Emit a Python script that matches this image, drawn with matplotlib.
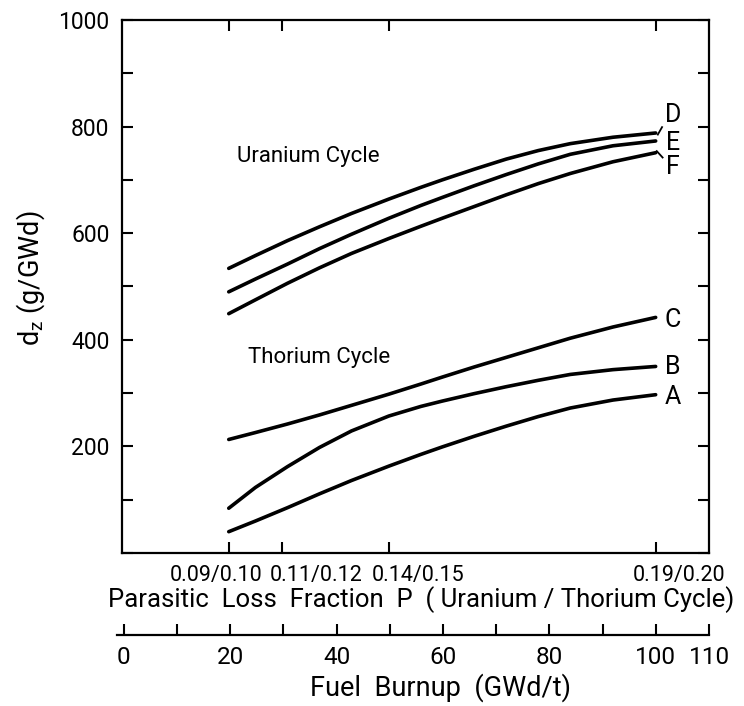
import matplotlib
matplotlib.use("Agg")
from matplotlib import pyplot as plt

plt.rcParams['font.family'] = ['Roboto', 'DejaVu Sans']
plt.rcParams['mathtext.default'] = 'regular'

# fuel burnup (GWd/t) at which the curves were read
burnup = [20, 25, 31, 37, 43, 50, 56, 60, 66, 72, 78, 84, 92, 100]

# d_z (g/GWd), uranium cycle
curve_d = [534, 558, 586, 612, 637, 664, 686, 700, 720, 739, 755, 768, 780, 788]
curve_e = [490, 514, 542, 571, 598, 628, 652, 667, 689, 710, 730, 748, 764, 773]
curve_f = [449, 475, 506, 535, 562, 590, 613, 628, 650, 672, 693, 712, 734, 751]
# d_z (g/GWd), thorium cycle
curve_c = [213, 226, 242, 259, 277, 298, 317, 330, 349, 367, 385, 403, 424, 442]
curve_b = [84, 123, 162, 198, 229, 257, 275, 285, 299, 312, 324, 335, 344, 350]
curve_a = [40, 60, 85, 111, 136, 163, 185, 199, 219, 238, 256, 272, 287, 297]

curve_names = ['D', 'E', 'F', 'C', 'B', 'A']
curves = [curve_d, curve_e, curve_f, curve_c, curve_b, curve_a]

# parasitic loss fraction ticks (uranium/thorium) on the burnup scale
p_burnup = [20, 30, 50, 100]
p_labels = ['0.09/0.10', '0.11/0.12', '0.14/0.15', '0.19/0.20']

burnup_ticks = list(range(0, 111, 10))
burnup_labels = ['0', '', '20', '', '40', '', '60', '', '80', '', '100', '110']

y_ticks = list(range(0, 1001, 100))
y_labels = ['', '', '200', '', '400', '', '600', '', '800', '', '1000']

fs = 16.5
lw = 2.6

fig = plt.figure(figsize=(7.44, 7.06), dpi=100)
ax = fig.add_axes([0.164, 0.2167, 0.789, 0.755])

for ys in curves:
    ax.plot(burnup, ys, color='black', lw=lw, solid_capstyle='round',
            solid_joinstyle='round')

ax.set_xlim(0, 110)
ax.set_ylim(0, 1000)

for s in ax.spines.values():
    s.set_linewidth(1.6)

ax.set_yticks(y_ticks)
ax.set_yticklabels(y_labels, fontsize=fs)
ax.tick_params(axis='y', direction='in', length=8, width=1.5, pad=9,
               right=True)
ax.set_xticks(p_burnup)
ax.set_xticklabels([])
ax.tick_params(axis='x', direction='in', length=8, width=1.5, top=True)

ax.set_ylabel(r'd$_{z}$ (g/GWd)', fontsize=fs + 3)
ax.yaxis.set_label_coords(-0.128, 0.516)

# P tick labels, shifted so they don't collide
p_label_x = [17.6, 36.4, 55.4, 104.3]
for x, t in zip(p_label_x, p_labels):
    ax.text(x, -0.042, t, transform=ax.get_xaxis_transform(), ha='center',
            va='center', fontsize=fs - 1)
ax.text(0.51, -0.088,
        'Parasitic  Loss  Fraction  P  ( Uranium / Thorium Cycle)',
        transform=ax.transAxes, ha='center', va='center', fontsize=fs + 2)

ax.text(21.5, 743, 'Uranium Cycle', fontsize=fs - 0.5, va='center', ha='left')
ax.text(23.6, 366, 'Thorium Cycle', fontsize=fs - 0.5, va='center', ha='left')

label_y = [821, 770, 724, 437, 349, 293]
for name, ly in zip(curve_names, label_y):
    ax.text(103.2, ly, name, fontsize=fs + 1.5, ha='center', va='center')
# small leader strokes for D and F
ax.plot([100.4, 101.2], [785, 799], color='black', lw=1.3)
ax.plot([100.2, 101.3], [754, 742], color='black', lw=1.3)

# separate burnup scale below the plot
ax2 = fig.add_axes([0.157, 0.1006, 0.796, 0.0])
ax2.set_xlim(-1.3, 110)
for side in ['left', 'right', 'top']:
    ax2.spines[side].set_visible(False)
ax2.spines['bottom'].set_linewidth(1.6)
ax2.spines['bottom'].set_bounds(-1.3, 110)
ax2.set_yticks([])
ax2.set_xticks(burnup_ticks)
ax2.set_xticklabels(burnup_labels, fontsize=fs + 1)
ax2.tick_params(axis='x', direction='in', length=8, width=1.5, pad=8)
ax2.set_xlabel('Fuel  Burnup  (GWd/t)', fontsize=fs + 3, va='center')
ax2.xaxis.set_label_coords(440 / 744, 1 - 688 / 706,
                           transform=fig.transFigure)

fig.savefig('out.png', dpi=100)
